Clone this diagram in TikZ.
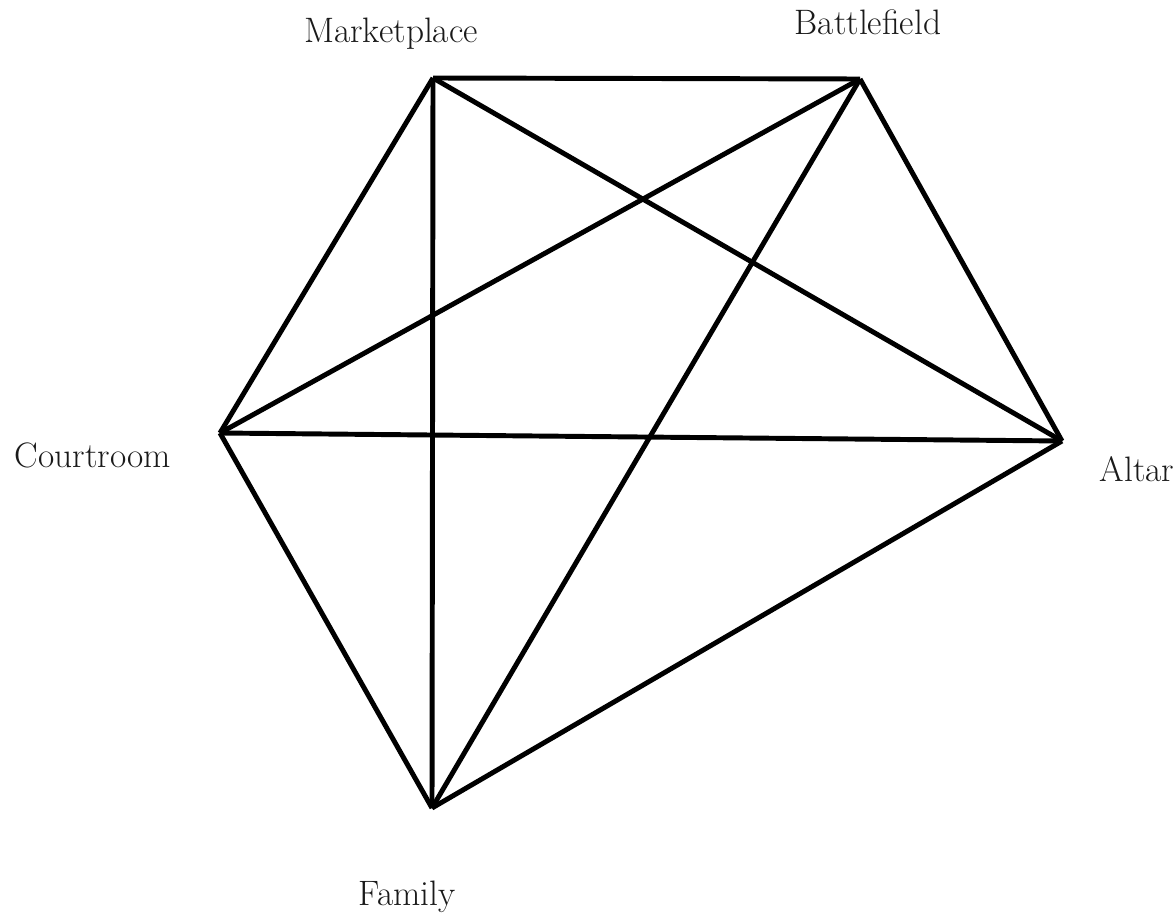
\documentclass[tikz,border=0pt]{standalone}
\usepackage{xcolor}
\usepackage{tikz}
\usetikzlibrary{positioning, calc}
\definecolor{edgeBlack}{HTML}{000000}
\definecolor{labelBlack}{HTML}{1A1A1A}

\tikzset{
  edge/.style={line width=3.7pt, color=edgeBlack},
  place/.style={font=\fontsize{26.5}{32}\selectfont, color=labelBlack, anchor=base, inner sep=0pt}
}

\begin{document}
\begin{tikzpicture}[x=0.75pt, y=-0.75pt]
    \useasboundingbox (0, 0) rectangle (1175, 913);
    % Corners of the graph
    \coordinate (market) at (433, 78);
    \coordinate (battle) at (860, 79);
    \coordinate (altar)  at (1062, 441);
    \coordinate (court)  at (220, 433);
    \coordinate (family) at (432, 808);
    % Every pair of places is linked
    \foreach \a/\b in {market/battle, market/court, market/altar, market/family,
                       battle/altar, battle/court, battle/family,
                       court/altar, court/family, altar/family} {
      \draw[edge] (\a) -- (\b);
    }
    % Place names
    \node[place] (marketlabel) at (391, 43) {Marketplace};
    \node[place] (battlelabel) at (868, 35) {Battlefield};
    \node[place] (courtlabel)  at (93, 467) {Courtroom};
    \node[place] (altarlabel)  at (1137, 481) {Altar};
    \node[place] (familylabel) at (407, 905) {Family};
  \end{tikzpicture}
\end{document}
